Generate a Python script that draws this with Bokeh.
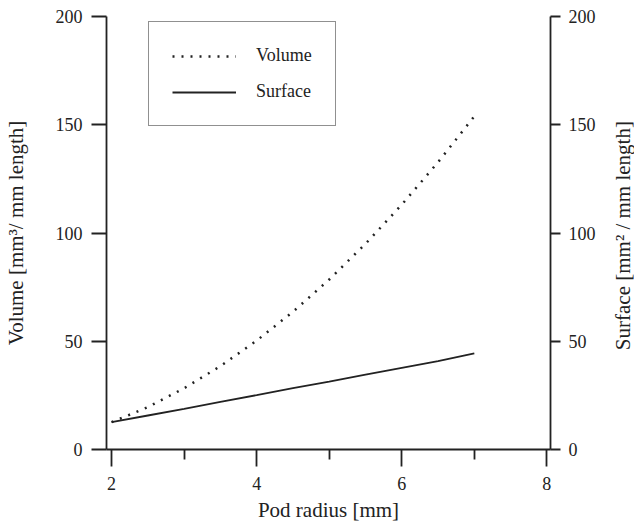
from bokeh.plotting import figure
from bokeh.layouts import row
from bokeh.models import Range1d, LinearAxis, FixedTicker, Legend, LegendItem
from bokeh.embed import file_html
from bokeh.resources import INLINE

radius = [2, 2.5, 3, 3.5, 4, 4.5, 5, 5.5, 6, 6.5, 7]
volume = [12.6, 19.6, 28.3, 38.5, 50.3, 63.6, 78.5, 95.0, 113.1, 132.7, 153.9]
surface = [12.6, 15.7, 18.8, 22.0, 25.1, 28.3, 31.4, 34.6, 37.7, 40.8, 44.4]

x_ticks = [2, 4, 6, 8]
x_minor = [3, 5, 7]
y_ticks = [0, 50, 100, 150, 200]

FONT = "Liberation Serif"
INK = "#222222"

p = figure(frame_width=444, frame_height=433, output_backend="svg", toolbar_location=None,
           x_range=Range1d(1.93, 8.05), y_range=Range1d(0, 200),
           min_border_left=100, min_border_right=57, min_border_top=16, min_border_bottom=72,
           x_axis_label="Pod radius [mm]", y_axis_label="Volume [mm³/ mm length]")
p.extra_y_ranges = {"surf": Range1d(0, 200)}
p.grid.visible = False
p.outline_line_color = None
p.background_fill_color = "white"

right = LinearAxis(y_range_name="surf")
p.add_layout(right, "right")

for ax in p.axis:
    ax.axis_line_color = INK
    ax.axis_line_width = 1.8
    ax.major_tick_line_color = INK
    ax.major_tick_line_width = 1.8
    ax.minor_tick_line_color = INK
    ax.minor_tick_line_width = 1.8
    ax.major_tick_in = 0
    ax.minor_tick_in = 0
    ax.major_label_text_font = FONT
    ax.major_label_text_font_size = "18px"
    ax.major_label_text_color = INK
    ax.axis_label_text_font = FONT
    ax.axis_label_text_font_size = "21px"
    ax.axis_label_text_font_style = "normal"
    ax.axis_label_text_color = INK

xa = p.xaxis[0]
xa.ticker = FixedTicker(ticks=x_ticks, minor_ticks=x_minor)
xa.major_tick_out = 17
xa.minor_tick_out = 10
xa.major_label_standoff = 10
xa.axis_label_standoff = 5

ya = p.yaxis[0]
ya.ticker = FixedTicker(ticks=y_ticks, minor_ticks=[])
ya.major_tick_out = 15
ya.major_label_standoff = 9
ya.axis_label_standoff = 25

right.ticker = FixedTicker(ticks=y_ticks, minor_ticks=[])
right.major_tick_out = 10
right.major_label_standoff = 8

r_vol = p.line(radius, volume, line_color=INK, line_width=2.5, line_dash="2 7")
r_surf = p.line(radius, surface, line_color=INK, line_width=1.8, y_range_name="surf")

legend = Legend(items=[LegendItem(label="Volume", renderers=[r_vol]),
                       LegendItem(label="Surface", renderers=[r_surf])],
                location=(42, 323), orientation="vertical",
                border_line_color=INK, border_line_width=1.5,
                background_fill_alpha=1.0,
                label_text_font=FONT, label_text_font_size="18px", label_text_color=INK,
                glyph_width=64, glyph_height=20, label_height=20,
                label_standoff=20, padding=23, spacing=15, margin=0)
p.add_layout(legend, "center")

# narrow strip holding the right-hand title so it reads bottom-to-top
p2 = figure(frame_width=1, frame_height=433, output_backend="svg", toolbar_location=None,
            x_range=Range1d(0, 1), y_range=Range1d(0, 1),
            min_border_left=24, min_border_right=0, min_border_top=16, min_border_bottom=72,
            y_axis_label="Surface  [mm² / mm length]")
p2.xaxis.visible = False
p2.grid.visible = False
p2.outline_line_color = None
ax2 = p2.yaxis[0]
ax2.ticker = FixedTicker(ticks=[], minor_ticks=[])
ax2.axis_line_color = None
ax2.major_tick_line_color = None
ax2.minor_tick_line_color = None
ax2.major_label_text_font_size = "0px"
ax2.major_label_standoff = 0
ax2.major_tick_out = 0
ax2.axis_label_standoff = 0
ax2.axis_label_text_font = FONT
ax2.axis_label_text_font_size = "21px"
ax2.axis_label_text_font_style = "normal"
ax2.axis_label_text_color = INK

layout = row(p, p2, spacing=0)
open("out.html", "w").write(file_html(layout, INLINE))
